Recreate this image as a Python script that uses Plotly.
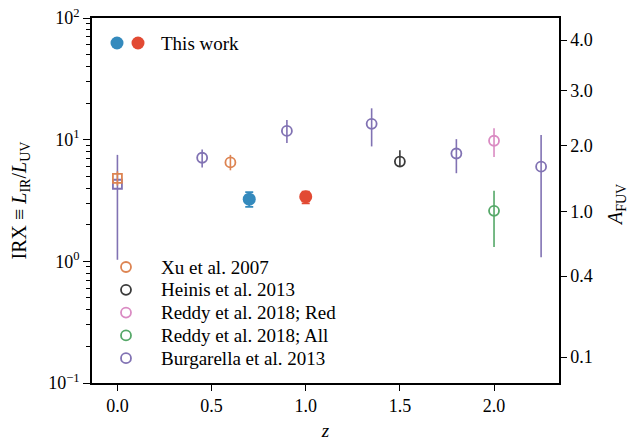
import numpy as np
import plotly.graph_objects as go

# ---- data: IRX (value, upper, lower) vs redshift ----
tw_z = [0.70, 1.00]
tw_irx = [3.24, 3.40]
tw_hi = [3.70, 3.74]
tw_lo = [2.80, 3.00]
tw_colors = ["#348ABD", "#E24A33"]

xu_sq_z = [0.0]
xu_sq_irx = [4.8]
xu_sq_hi = [5.5]
xu_sq_lo = [4.2]
xu_z = [0.60]
xu_irx = [6.5]
xu_hi = [7.5]
xu_lo = [5.6]

heinis_z = [1.50]
heinis_irx = [6.6]
heinis_hi = [8.2]
heinis_lo = [6.0]

reddy_red_z = [2.0]
reddy_red_irx = [9.8]
reddy_red_hi = [12.4]
reddy_red_lo = [7.2]

reddy_all_z = [2.0]
reddy_all_irx = [2.6]
reddy_all_hi = [3.8]
reddy_all_lo = [1.31]

burg_sq_z = [0.0]
burg_sq_irx = [4.3]
burg_sq_hi = [7.5]
burg_sq_lo = [1.03]
burg_z = [0.45, 0.90, 1.35, 1.80, 2.25]
burg_irx = [7.1, 11.8, 13.5, 7.7, 6.0]
burg_hi = [8.3, 14.5, 18.1, 10.1, 10.9]
burg_lo = [5.9, 9.4, 8.8, 5.3, 1.08]

afuv_ticks = [0.1, 0.4, 1.0, 2.0, 3.0, 4.0]
irx_decades = [0.1, 1, 10, 100]
irx_decade_labels = ["10<sup>−1</sup>", "10<sup>0</sup>", "10<sup>1</sup>", "10<sup>2</sup>"]
z_ticks = [0.0, 0.5, 1.0, 1.5, 2.0]

legend_names = ["Xu et al. 2007", "Heinis et al. 2013", "Reddy et al. 2018; Red",
                "Reddy et al. 2018; All", "Burgarella et al. 2013"]

FONT = "Liberation Serif"
ORANGE = "#DD8452"
DARK = "#3a3a3a"
PINK = "#DA8BC3"
GREEN = "#55A868"
PURPLE = "#8172B3"
legend_colors = [ORANGE, DARK, PINK, GREEN, PURPLE]

# plot-area geometry in pixels
L, R, T, B = 92, 71, 18, 58
W, H = 630, 441
PW, PH = W - L - R, H - T - B


def px_to_paper(x, y):
    return (x - L) / PW, (H - B - y) / PH


def err(v, hi, lo, color, width=0, thickness=1.6):
    return dict(type="data", symmetric=False,
                array=[h - x for h, x in zip(hi, v)],
                arrayminus=[x - l for x, l in zip(v, lo)],
                color=color, thickness=thickness, width=width)


def open_pts(z, v, hi, lo, color, symbol="circle", size=10):
    return go.Scatter(
        x=z, y=v, mode="markers", showlegend=False,
        marker=dict(symbol=symbol + "-open", size=size, color=color,
                    line=dict(width=1.8, color=color)),
        error_y=err(v, hi, lo, color),
    )


fig = go.Figure()

fig.add_trace(open_pts(burg_sq_z, burg_sq_irx, burg_sq_hi, burg_sq_lo, PURPLE, symbol="square", size=9))
fig.add_trace(open_pts(xu_sq_z, xu_sq_irx, xu_sq_hi, xu_sq_lo, ORANGE, symbol="square", size=9))
fig.add_trace(open_pts(xu_z, xu_irx, xu_hi, xu_lo, ORANGE))
fig.add_trace(open_pts(heinis_z, heinis_irx, heinis_hi, heinis_lo, DARK))
fig.add_trace(open_pts(reddy_red_z, reddy_red_irx, reddy_red_hi, reddy_red_lo, PINK))
fig.add_trace(open_pts(reddy_all_z, reddy_all_irx, reddy_all_hi, reddy_all_lo, GREEN))
fig.add_trace(open_pts(burg_z, burg_irx, burg_hi, burg_lo, PURPLE))

for i in range(len(tw_z)):
    fig.add_trace(go.Scatter(
        x=[tw_z[i]], y=[tw_irx[i]], mode="markers", showlegend=False,
        marker=dict(symbol="circle", size=13, color=tw_colors[i]),
        error_y=err([tw_irx[i]], [tw_hi[i]], [tw_lo[i]], tw_colors[i], width=4, thickness=1.8),
    ))

# right-hand A_FUV axis, placed at the IRX values corresponding to each A_FUV
afuv_pos = [(10 ** (0.4 * a) - 1) / 0.59 for a in afuv_ticks]
fig.add_trace(go.Scatter(x=[tw_z[0]], y=[tw_irx[0]], yaxis="y2", mode="markers",
                         marker=dict(opacity=0), showlegend=False, hoverinfo="skip"))

minor_vals = [m * d for d in irx_decades[:-1] for m in range(2, 10)]

tickfont = dict(family=FONT, size=18, color="black")
fig.update_layout(
    width=W, height=H,
    margin=dict(l=L, r=R, t=T, b=B, autoexpand=False),
    paper_bgcolor="white", plot_bgcolor="white",
    font=dict(family=FONT, size=18, color="black"),
    showlegend=False,
    xaxis=dict(
        range=[-0.135, 2.345], tickvals=z_ticks, tickformat=".1f",
        ticks="outside", ticklen=6, tickwidth=1.2, tickcolor="black",
        showline=True, linecolor="black", linewidth=1.5, mirror=True,
        showgrid=False, zeroline=False, tickfont=tickfont, automargin=False,
        title=dict(text="<i>z</i>", font=dict(family=FONT, size=19), standoff=16),
    ),
    yaxis=dict(
        type="log", range=[-1, 2], tickvals=irx_decades, ticktext=irx_decade_labels,
        ticks="outside", ticklen=7, tickwidth=1.2, tickcolor="black",
        minor=dict(tickvals=minor_vals, ticks="outside", ticklen=4, tickwidth=1,
                   tickcolor="black", showgrid=False),
        showline=True, linecolor="black", linewidth=1.5,
        showgrid=False, zeroline=False, tickfont=tickfont, automargin=False,
        title=dict(text="IRX ≡ <i>L</i><sub>IR</sub>/<i>L</i><sub>UV</sub>",
                   font=dict(family=FONT, size=20), standoff=16),
    ),
    yaxis2=dict(
        type="log", range=[-1, 2], overlaying="y", side="right",
        tickvals=afuv_pos, ticktext=[f"{a:.1f}" for a in afuv_ticks],
        ticks="outside", ticklen=6, tickwidth=1.2, tickcolor="black",
        showline=True, linecolor="black", linewidth=1.5,
        showgrid=False, zeroline=False, tickfont=tickfont, automargin=False,
    ),
)

# right-axis title
tx, ty = px_to_paper(616, 205)
fig.add_annotation(text="<i>A</i><sub>FUV</sub>", xref="paper", yref="paper", x=tx, y=ty,
                   xanchor="center", yanchor="middle", textangle=-90, showarrow=False,
                   font=dict(family=FONT, size=20))

# legend keys drawn in the lower-left corner of the axes
for k, (name, col) in enumerate(zip(legend_names, legend_colors)):
    ky = 267 + 22.8 * k
    x0, y0 = px_to_paper(126 - 5, ky + 5)
    x1, y1 = px_to_paper(126 + 5, ky - 5)
    fig.add_shape(type="circle", xref="paper", yref="paper", x0=x0, x1=x1, y0=y0, y1=y1,
                  fillcolor="rgba(0,0,0,0)", line=dict(color=col, width=1.8))
    tx, ty = px_to_paper(159, ky)
    fig.add_annotation(text=name, xref="paper", yref="paper", x=tx, y=ty,
                       xanchor="left", yanchor="middle", showarrow=False,
                       font=dict(family=FONT, size=19))

# "This work" key: the two sample colours side by side
for cx, col in zip([117, 138], tw_colors):
    x0, y0 = px_to_paper(cx - 6.5, 43 + 6.5)
    x1, y1 = px_to_paper(cx + 6.5, 43 - 6.5)
    fig.add_shape(type="circle", xref="paper", yref="paper", x0=x0, x1=x1, y0=y0, y1=y1,
                  fillcolor=col, line=dict(width=0))
tx, ty = px_to_paper(159, 43)
fig.add_annotation(text="This work", xref="paper", yref="paper", x=tx, y=ty,
                   xanchor="left", yanchor="middle", showarrow=False,
                   font=dict(family=FONT, size=19))

fig.write_html("out.html")
